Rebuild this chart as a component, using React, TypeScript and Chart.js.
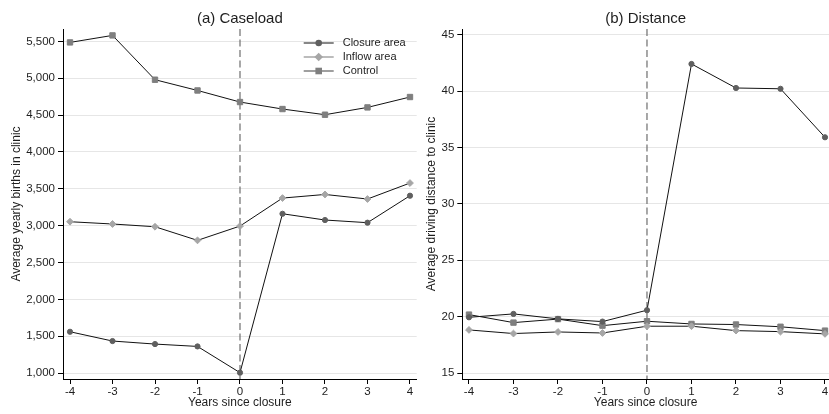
import React, { useEffect, useRef } from "react";
import { Chart, registerables } from "chart.js";

Chart.register(...registerables);

// ---- data ----
const years = [-4, -3, -2, -1, 0, 1, 2, 3, 4];
const seriesLabels = ["Closure area", "Inflow area", "Control"];

const caseloadClosure = [1560, 1434, 1393, 1361, 1005, 3161, 3076, 3040, 3406];
const caseloadInflow = [3053, 3022, 2985, 2800, 2994, 3374, 3423, 3361, 3578];
const caseloadControl = [5486, 5581, 4980, 4834, 4677, 4582, 4505, 4604, 4745];

const distanceClosure = [19.94, 20.24, 19.8, 19.56, 20.57, 42.4, 40.27, 40.2, 35.9];
const distanceInflow = [18.82, 18.5, 18.64, 18.55, 19.15, 19.15, 18.76, 18.67, 18.47];
const distanceControl = [20.18, 19.47, 19.78, 19.2, 19.59, 19.35, 19.3, 19.1, 18.76];

const caseloadTicks = [1000, 1500, 2000, 2500, 3000, 3500, 4000, 4500, 5000, 5500];
const distanceTicks = [15, 20, 25, 30, 35, 40, 45];

const FONT = "'Liberation Sans', Arial, Helvetica, sans-serif";
const TEXT = "#1e1e1e";

const seriesStyles = [
  { color: "#5f5f5f", pointStyle: "circle", radius: 2.6 },
  { color: "#a6a6a6", pointStyle: "rectRot", radius: 3.4 },
  { color: "#7f7f7f", pointStyle: "rect", radius: 3.8 },
];

type PanelProps = {
  left: number;
  width: number;
  title: string;
  yTitle: string;
  series: number[][];
  yTicks: number[];
  yMin: number;
  yMax: number;
  xMin: number;
  xMax: number;
  yWidth: number;
  yTitlePad: number;
  padRight: number;
  showLegend: boolean;
  commas: boolean;
};

function drawMarker(ctx: CanvasRenderingContext2D, style: string, x: number, y: number, color: string) {
  ctx.save();
  ctx.fillStyle = color;
  ctx.beginPath();
  if (style === "circle") {
    ctx.arc(x, y, 3.3, 0, Math.PI * 2);
  } else if (style === "rect") {
    ctx.rect(x - 3.3, y - 3.3, 6.6, 6.6);
  } else {
    ctx.moveTo(x, y - 4.3);
    ctx.lineTo(x + 4.3, y);
    ctx.lineTo(x, y + 4.3);
    ctx.lineTo(x - 4.3, y);
    ctx.closePath();
  }
  ctx.fill();
  ctx.restore();
}

function Panel(p: PanelProps) {
  const ref = useRef<HTMLCanvasElement | null>(null);
  useEffect(() => {
    if (!ref.current) return;
    const decor = {
      id: "decor",
      beforeDatasetsDraw(chart: any) {
        const { ctx, chartArea } = chart;
        const x0 = chart.scales.x.getPixelForValue(0);
        ctx.save();
        ctx.strokeStyle = "#6e6e6e";
        ctx.lineWidth = 1.2;
        ctx.setLineDash([7, 3.5]);
        ctx.beginPath();
        ctx.moveTo(x0, chartArea.top);
        ctx.lineTo(x0, chartArea.bottom);
        ctx.stroke();
        ctx.restore();
      },
      afterDraw(chart: any) {
        const { ctx, chartArea } = chart;
        ctx.save();
        ctx.fillStyle = TEXT;
        ctx.font = `15px ${FONT}`;
        ctx.textAlign = "center";
        ctx.textBaseline = "middle";
        ctx.fillText(p.title, (chartArea.left + chartArea.right) / 2, 18.5);
        if (p.showLegend) {
          const r = chartArea.right;
          seriesLabels.forEach((lab, i) => {
            const y = chartArea.top + 14 + i * 14;
            const st = seriesStyles[i];
            ctx.strokeStyle = st.color;
            ctx.lineWidth = 1.5;
            ctx.beginPath();
            ctx.moveTo(r - 113, y);
            ctx.lineTo(r - 83, y);
            ctx.stroke();
            drawMarker(ctx, st.pointStyle, r - 98, y, st.color);
            ctx.fillStyle = TEXT;
            ctx.font = `11px ${FONT}`;
            ctx.textAlign = "left";
            ctx.textBaseline = "middle";
            ctx.fillText(lab, r - 74, y);
          });
        }
        ctx.restore();
      },
    };

    const chart = new Chart(ref.current, {
      type: "line",
      data: {
        datasets: p.series.map((vals, i) => ({
          label: seriesLabels[i],
          data: years.map((x, j) => ({ x, y: vals[j] })),
          borderColor: "#111111",
          borderWidth: 1,
          pointStyle: seriesStyles[i].pointStyle as any,
          pointRadius: seriesStyles[i].radius,
          pointBackgroundColor: seriesStyles[i].color,
          pointBorderColor: seriesStyles[i].color,
          pointBorderWidth: 1,
          tension: 0,
          fill: false,
        })),
      },
      options: {
        animation: false,
        responsive: false,
        layout: { autoPadding: false, padding: { top: 29, left: 0, right: p.padRight, bottom: 0 } },
        plugins: { legend: { display: false }, tooltip: { enabled: false } },
        scales: {
          x: {
            type: "linear",
            min: p.xMin,
            max: p.xMax,
            afterBuildTicks: (s: any) => {
              s.ticks = years.map((v) => ({ value: v }));
            },
            afterFit: (s: any) => {
              s.height = 35;
              s.paddingLeft = 0;
              s.paddingRight = 0;
              s.paddingTop = 0;
              s.paddingBottom = 0;
            },
            grid: { drawOnChartArea: false, drawTicks: true, tickLength: 5, tickColor: "#000" },
            border: { display: true, color: "#000", width: 1 },
            ticks: {
              padding: 1,
              color: TEXT,
              font: { family: FONT, size: 11.5 },
              maxRotation: 0,
              callback: (v: any) => String(v),
            },
            title: {
              display: true,
              text: "Years since closure",
              color: TEXT,
              font: { family: FONT, size: 12 },
              padding: { top: 0, bottom: 4 },
            },
          },
          y: {
            type: "linear",
            min: p.yMin,
            max: p.yMax,
            afterBuildTicks: (s: any) => {
              s.ticks = p.yTicks.map((v) => ({ value: v }));
            },
            afterFit: (s: any) => {
              s.width = p.yWidth;
              s.paddingLeft = 0;
              s.paddingRight = 0;
              s.paddingTop = 0;
              s.paddingBottom = 0;
            },
            grid: { color: "#e6e6e6", lineWidth: 1, drawTicks: true, tickLength: 5, tickColor: "#000" },
            border: { display: true, color: "#000", width: 1 },
            ticks: {
              padding: 3,
              color: TEXT,
              font: { family: FONT, size: 11.5 },
              callback: (v: any) => (p.commas ? Number(v).toLocaleString("en-US") : String(v)),
            },
            title: {
              display: true,
              text: p.yTitle,
              color: TEXT,
              font: { family: FONT, size: 12 },
              padding: { top: p.yTitlePad, bottom: 0 },
            },
          },
        },
      },
      plugins: [decor],
    } as any);
    return () => chart.destroy();
  }, []);
  return (
    <div style={{ position: "absolute", left: p.left, top: 0, width: p.width, height: 414 }}>
      <canvas ref={ref} width={p.width} height={414} style={{ display: "block" }} />
    </div>
  );
}

export default function App() {
  return (
    <div style={{ position: "fixed", left: 0, top: 0, width: 829, height: 414, background: "#fff", overflow: "hidden" }}>
      <Panel
        left={0}
        width={418}
        title="(a) Caseload"
        yTitle="Average yearly births in clinic"
        series={[caseloadClosure, caseloadInflow, caseloadControl]}
        yTicks={caseloadTicks}
        yMin={919}
        yMax={5668}
        xMin={-4.165}
        xMax={4.158}
        yWidth={63}
        yTitlePad={9}
        padRight={1.3}
        showLegend={true}
        commas={true}
      />
      <Panel
        left={418}
        width={411}
        title="(b) Distance"
        yTitle="Average driving distance to clinic"
        series={[distanceClosure, distanceInflow, distanceControl]}
        yTicks={distanceTicks}
        yMin={14.47}
        yMax={45.5}
        xMin={-4.15}
        xMax={4.09}
        yWidth={44.3}
        yTitlePad={6.3}
        padRight={0}
        showLegend={false}
        commas={false}
      />
    </div>
  );
}
